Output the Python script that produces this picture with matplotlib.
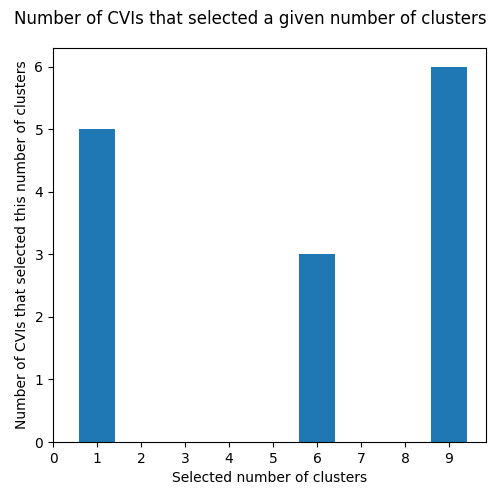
import matplotlib
matplotlib.use("Agg")
import matplotlib.pyplot as plt

clusters = [1, 6, 9]
counts = [5, 3, 6]
xticks = list(range(10))

fig, ax = plt.subplots(figsize=(5, 5), dpi=100)
ax.bar(clusters, counts, width=0.8, color="#1f77b4")
ax.set_xticks(xticks)
ax.set_xlim(left=0)
ax.set_xlabel("Selected number of clusters")
ax.set_ylabel("Number of CVIs that selected this number of clusters")
fig.suptitle("Number of CVIs that selected a given number of clusters")
fig.subplots_adjust(left=0.106, right=0.972, top=0.904, bottom=0.116)
fig.savefig("out.png")
